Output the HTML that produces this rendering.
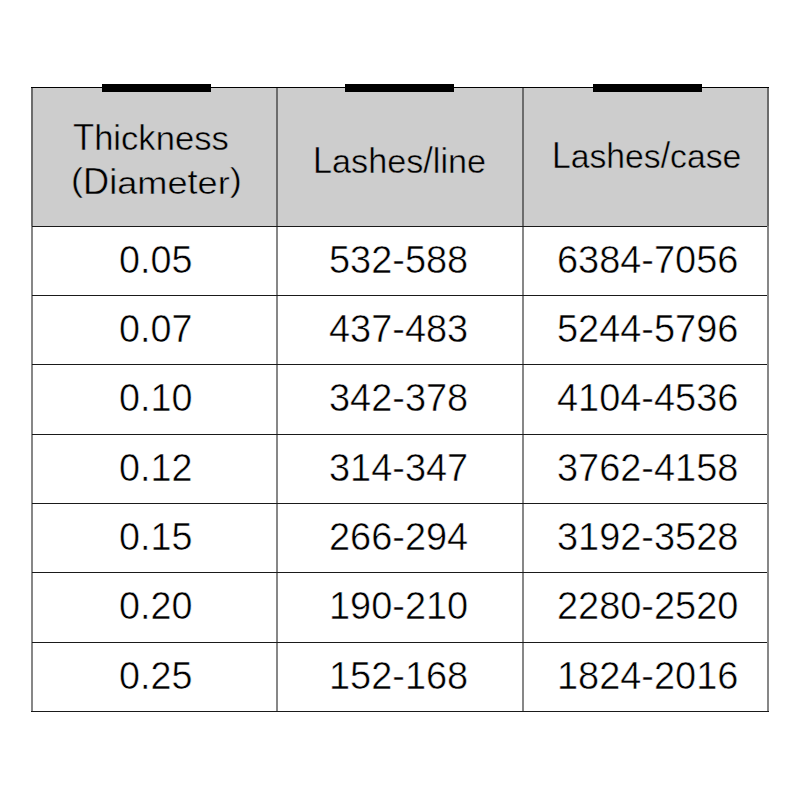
<!DOCTYPE html><html><head><meta charset="utf-8"><title>Lash table</title><style>
*{margin:0;padding:0;box-sizing:border-box}
html,body{width:800px;height:800px;background:#fff;overflow:hidden}
body{position:relative;font-family:"Liberation Sans",sans-serif;color:#000}
.a{position:absolute}
.hd{position:absolute;left:31px;top:87px;width:738px;height:139px;background:#cdcdcd}
.h{position:absolute;left:31px;width:738px;height:1px;background:#1a1a1a}
.v{position:absolute;top:87px;width:2px;height:625px;background:rgba(0,0,0,0.47)}
.bar{position:absolute;top:84px;height:8px;width:109px;background:#000}
.t{position:absolute;white-space:nowrap;line-height:1;transform-origin:0 0}
.t span{display:inline-block;transform-origin:0 0.8465em}
</style></head><body>
<div class="hd"></div>
<div class="v" style="left:31px"></div>
<div class="v" style="left:276px"></div>
<div class="v" style="left:522px"></div>
<div class="v" style="left:767px"></div>
<div class="h" style="top:87px;background:#000"></div>
<div class="h" style="top:711px"></div>
<div class="h" style="top:226px;left:32px;width:735px"></div>
<div class="h" style="top:295px;left:32px;width:735px"></div>
<div class="h" style="top:364px;left:32px;width:735px"></div>
<div class="h" style="top:434px;left:32px;width:735px"></div>
<div class="h" style="top:503px;left:32px;width:735px"></div>
<div class="h" style="top:572px;left:32px;width:735px"></div>
<div class="h" style="top:642px;left:32px;width:735px"></div>
<div class="bar" style="left:102px"></div>
<div class="bar" style="left:345px"></div>
<div class="bar" style="left:593px"></div>
<div class="t" style="left:73.30px;top:118.60px;font-size:37.40px;transform:scaleX(0.9250);-webkit-text-stroke:0.5px #cdcdcd">T<span style="transform:scaleY(0.96)">hi</span><span style="transform:scaleY(0.87)">c</span><span style="transform:scaleY(0.96)">k</span><span style="transform:scaleY(0.87)">ness</span></div>
<div class="t" style="left:70.80px;top:162.70px;font-size:37.10px;transform:scaleX(0.9750);-webkit-text-stroke:0.5px #cdcdcd"><span style="transform:scaleY(0.89);transform-origin:0 0.13em">(</span>D<span style="transform:scaleY(0.96)">i</span><span style="transform:scaleY(0.87)">ame</span><span style="transform:scaleY(0.96)">t</span><span style="transform:scaleY(0.87)">er</span><span style="transform:scaleY(0.89);transform-origin:0 0.13em">)</span></div>
<div class="t" style="left:312.90px;top:141.50px;font-size:37.50px;transform:scaleX(0.9120);-webkit-text-stroke:0.5px #cdcdcd">L<span style="transform:scaleY(0.87)">as</span><span style="transform:scaleY(0.96)">h</span><span style="transform:scaleY(0.87)">es</span>/<span style="transform:scaleY(0.96)">li</span><span style="transform:scaleY(0.87)">ne</span></div>
<div class="t" style="left:552.40px;top:137.10px;font-size:37.50px;transform:scaleX(0.8990);-webkit-text-stroke:0.5px #cdcdcd">L<span style="transform:scaleY(0.87)">as</span><span style="transform:scaleY(0.96)">h</span><span style="transform:scaleY(0.87)">es</span>/<span style="transform:scaleY(0.87)">case</span></div>
<div class="t" style="left:118.80px;top:240.80px;font-size:38.00px;transform:scaleX(0.9920);-webkit-text-stroke:0.5px #fff">0.05</div>
<div class="t" style="left:328.80px;top:240.80px;font-size:38.00px;transform:scaleX(0.9980);-webkit-text-stroke:0.5px #fff">532-588</div>
<div class="t" style="left:557.20px;top:240.80px;font-size:38.00px;transform:scaleX(0.9980);-webkit-text-stroke:0.5px #fff">6384-7056</div>
<div class="t" style="left:118.80px;top:309.80px;font-size:38.00px;transform:scaleX(0.9920);-webkit-text-stroke:0.5px #fff">0.07</div>
<div class="t" style="left:328.80px;top:309.80px;font-size:38.00px;transform:scaleX(0.9980);-webkit-text-stroke:0.5px #fff">437-483</div>
<div class="t" style="left:557.20px;top:309.80px;font-size:38.00px;transform:scaleX(0.9980);-webkit-text-stroke:0.5px #fff">5244-5796</div>
<div class="t" style="left:118.80px;top:378.80px;font-size:38.00px;transform:scaleX(0.9920);-webkit-text-stroke:0.5px #fff">0.10</div>
<div class="t" style="left:328.80px;top:378.80px;font-size:38.00px;transform:scaleX(0.9980);-webkit-text-stroke:0.5px #fff">342-378</div>
<div class="t" style="left:557.20px;top:378.80px;font-size:38.00px;transform:scaleX(0.9980);-webkit-text-stroke:0.5px #fff">4104-4536</div>
<div class="t" style="left:118.80px;top:448.80px;font-size:38.00px;transform:scaleX(0.9920);-webkit-text-stroke:0.5px #fff">0.12</div>
<div class="t" style="left:328.80px;top:448.80px;font-size:38.00px;transform:scaleX(0.9980);-webkit-text-stroke:0.5px #fff">314-347</div>
<div class="t" style="left:557.20px;top:448.80px;font-size:38.00px;transform:scaleX(0.9980);-webkit-text-stroke:0.5px #fff">3762-4158</div>
<div class="t" style="left:118.80px;top:517.80px;font-size:38.00px;transform:scaleX(0.9920);-webkit-text-stroke:0.5px #fff">0.15</div>
<div class="t" style="left:328.80px;top:517.80px;font-size:38.00px;transform:scaleX(0.9980);-webkit-text-stroke:0.5px #fff">266-294</div>
<div class="t" style="left:557.20px;top:517.80px;font-size:38.00px;transform:scaleX(0.9980);-webkit-text-stroke:0.5px #fff">3192-3528</div>
<div class="t" style="left:118.80px;top:586.80px;font-size:38.00px;transform:scaleX(0.9920);-webkit-text-stroke:0.5px #fff">0.20</div>
<div class="t" style="left:328.80px;top:586.80px;font-size:38.00px;transform:scaleX(0.9980);-webkit-text-stroke:0.5px #fff">190-210</div>
<div class="t" style="left:557.20px;top:586.80px;font-size:38.00px;transform:scaleX(0.9980);-webkit-text-stroke:0.5px #fff">2280-2520</div>
<div class="t" style="left:118.80px;top:656.80px;font-size:38.00px;transform:scaleX(0.9920);-webkit-text-stroke:0.5px #fff">0.25</div>
<div class="t" style="left:328.80px;top:656.80px;font-size:38.00px;transform:scaleX(0.9980);-webkit-text-stroke:0.5px #fff">152-168</div>
<div class="t" style="left:557.20px;top:656.80px;font-size:38.00px;transform:scaleX(0.9980);-webkit-text-stroke:0.5px #fff">1824-2016</div>
</body></html>
